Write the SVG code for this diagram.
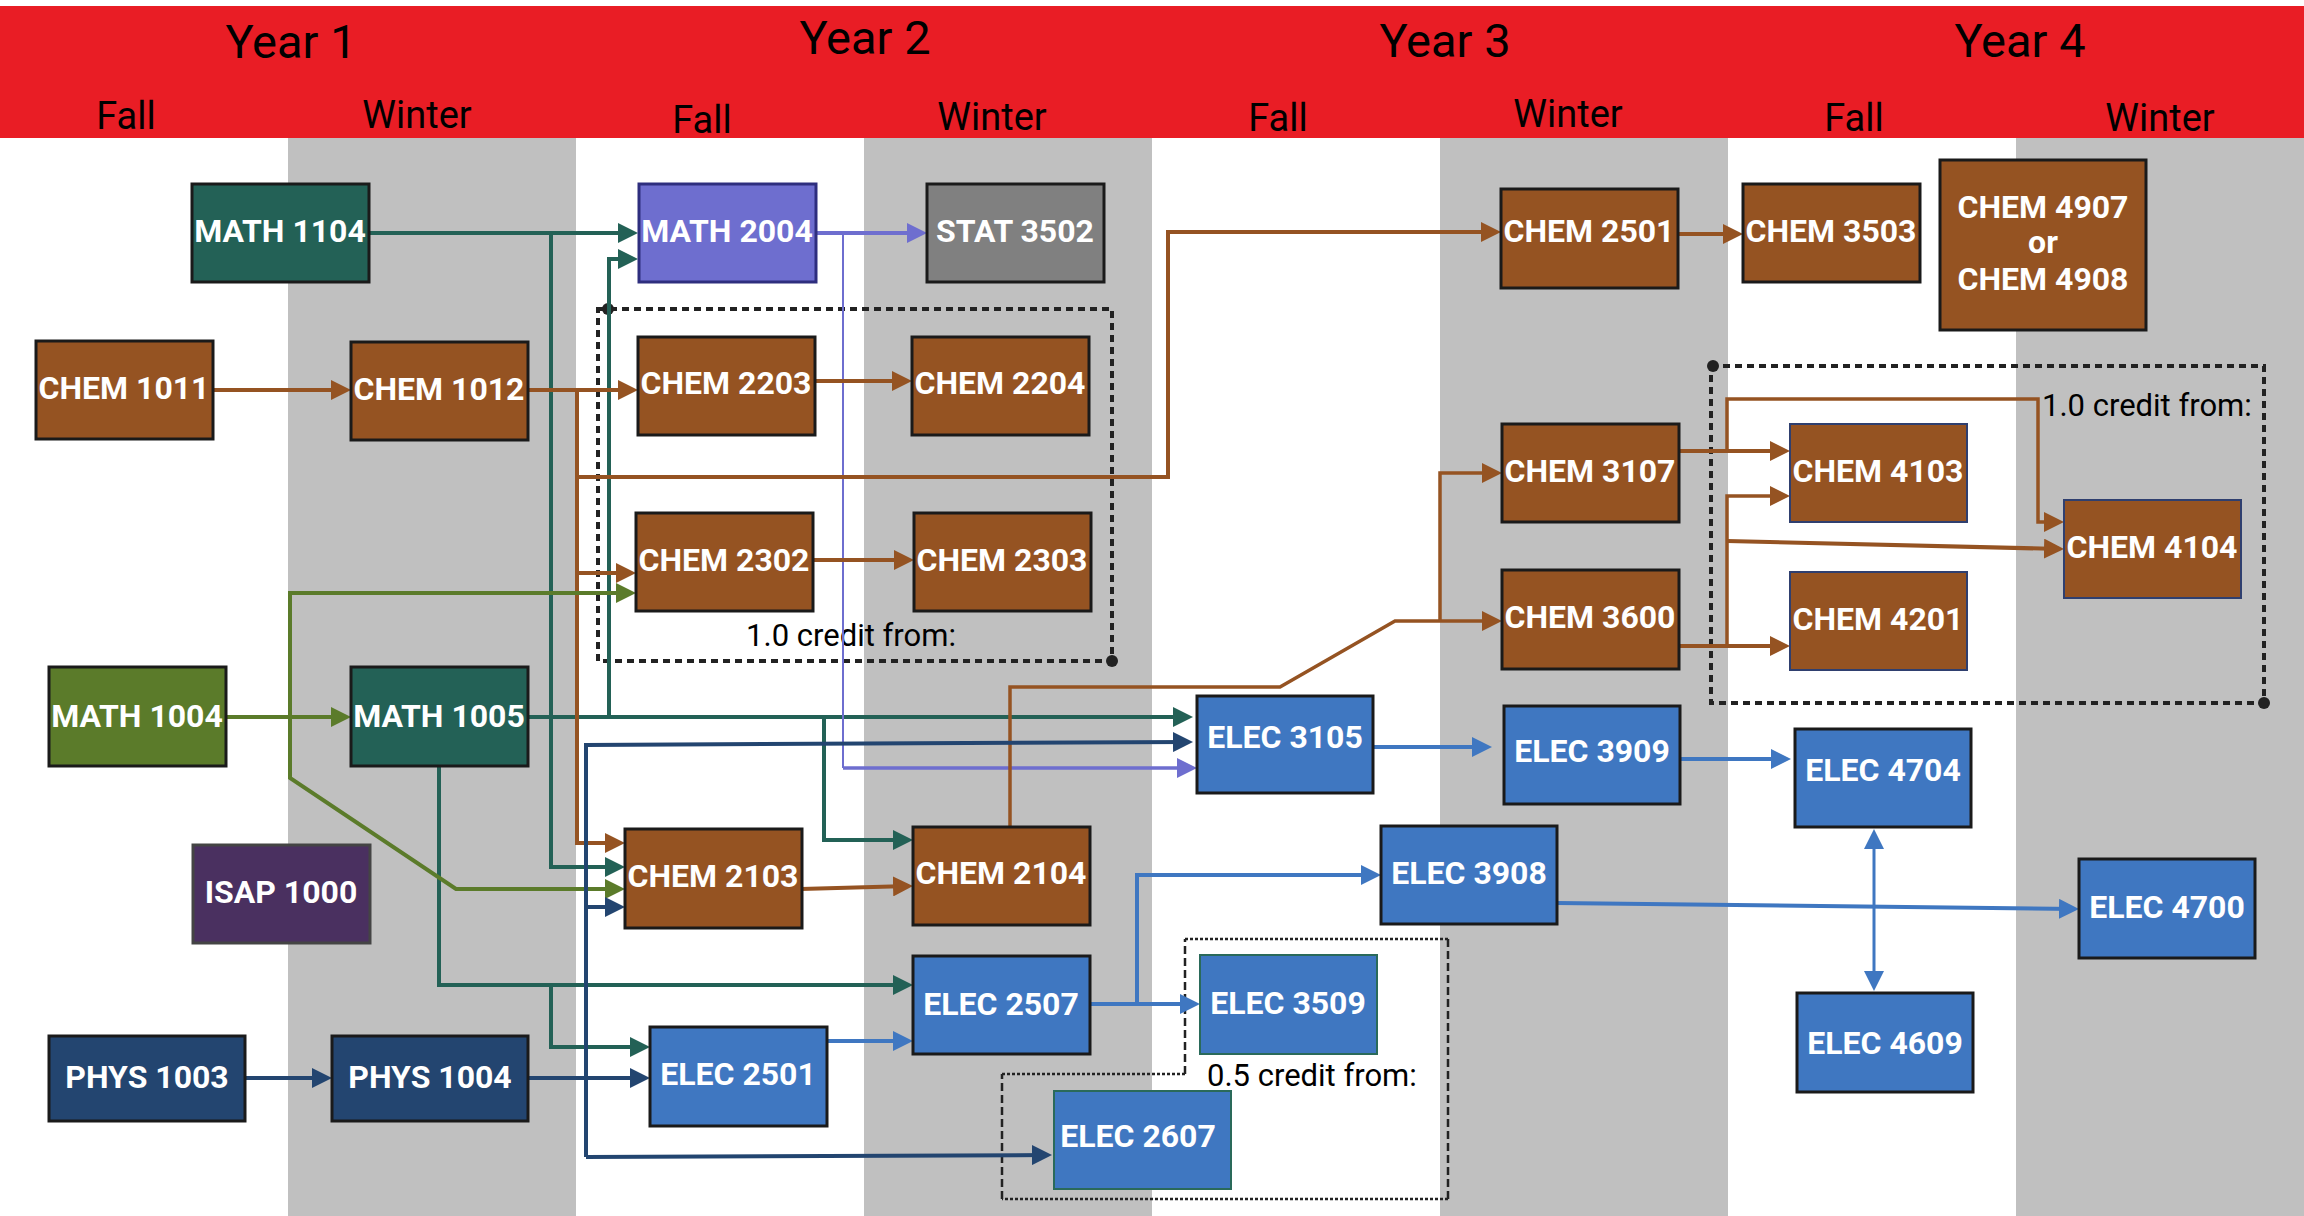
<svg xmlns="http://www.w3.org/2000/svg" width="2304" height="1216" viewBox="0 0 2304 1216">
<style>
.hdr{font-family:Roboto,"Liberation Sans",sans-serif;fill:#000;text-anchor:middle}
.yr{font-size:47px}
.sem{font-size:38px}
.nd rect{stroke:#1a1a1a;stroke-width:3}
.nd text{font-family:Roboto,"Liberation Sans",sans-serif;font-weight:bold;font-size:32px;fill:#fff;text-anchor:middle}
.teal rect{fill:#236156}
.brown rect{fill:#955322}
.blue rect{fill:#3f77c1}
.navy rect{fill:#234570}
.olive rect{fill:#5b7b2a}
.note{font-family:Roboto,"Liberation Sans",sans-serif;font-size:31px;fill:#000}
.dash{fill:none;stroke:#222;stroke-width:4;stroke-dasharray:7 5}
.dh{fill:none;stroke:#222;stroke-width:2.5;stroke-dasharray:3 2}
.dv{fill:none;stroke:#222;stroke-width:2.5;stroke-dasharray:8 4}
#connectors path{fill:none;stroke-width:4;stroke-linejoin:miter}
.ct{stroke:#236156}
.cb{stroke:#955322}
.cp{stroke:#6e6ecf}
.co{stroke:#5b7b2a}
.cn{stroke:#234570}
.ce{stroke:#3f77c1}
</style>
<defs>
<marker id="aT" markerUnits="userSpaceOnUse" markerWidth="20" markerHeight="20" viewBox="0 0 20 20" refX="16" refY="10" orient="auto-start-reverse"><path d="M0,0L20,10L0,20z" fill="#236156"/></marker>
<marker id="aB" markerUnits="userSpaceOnUse" markerWidth="20" markerHeight="20" viewBox="0 0 20 20" refX="16" refY="10" orient="auto-start-reverse"><path d="M0,0L20,10L0,20z" fill="#955322"/></marker>
<marker id="aP" markerUnits="userSpaceOnUse" markerWidth="20" markerHeight="20" viewBox="0 0 20 20" refX="16" refY="10" orient="auto-start-reverse"><path d="M0,0L20,10L0,20z" fill="#6e6ecf"/></marker>
<marker id="aO" markerUnits="userSpaceOnUse" markerWidth="20" markerHeight="20" viewBox="0 0 20 20" refX="16" refY="10" orient="auto-start-reverse"><path d="M0,0L20,10L0,20z" fill="#5b7b2a"/></marker>
<marker id="aN" markerUnits="userSpaceOnUse" markerWidth="20" markerHeight="20" viewBox="0 0 20 20" refX="16" refY="10" orient="auto-start-reverse"><path d="M0,0L20,10L0,20z" fill="#234570"/></marker>
<marker id="aE" markerUnits="userSpaceOnUse" markerWidth="20" markerHeight="20" viewBox="0 0 20 20" refX="16" refY="10" orient="auto-start-reverse"><path d="M0,0L20,10L0,20z" fill="#3f77c1"/></marker>
</defs>

<g id="background">
<rect x="0" y="0" width="2304" height="1216" fill="#fff"/>
<rect x="288" y="138" width="288" height="1078" fill="#c0c0c0"/>
<rect x="864" y="138" width="288" height="1078" fill="#c0c0c0"/>
<rect x="1440" y="138" width="288" height="1078" fill="#c0c0c0"/>
<rect x="2016" y="138" width="288" height="1078" fill="#c0c0c0"/>
<rect x="0" y="6" width="2304" height="132" fill="#e91d25"/>
</g>

<g id="header">
<text class="hdr yr" x="291" y="58">Year 1</text>
<text class="hdr yr" x="865" y="54">Year 2</text>
<text class="hdr yr" x="1445" y="57">Year 3</text>
<text class="hdr yr" x="2020" y="57">Year 4</text>
<text class="hdr sem" x="126" y="129">Fall</text>
<text class="hdr sem" x="417" y="128">Winter</text>
<text class="hdr sem" x="702" y="133">Fall</text>
<text class="hdr sem" x="992" y="130">Winter</text>
<text class="hdr sem" x="1278" y="131">Fall</text>
<text class="hdr sem" x="1568" y="127">Winter</text>
<text class="hdr sem" x="1854" y="131">Fall</text>
<text class="hdr sem" x="2160" y="131">Winter</text>
</g>

<g id="groups">
<rect class="dash" x="598" y="309" width="514" height="352"/>
<circle cx="608" cy="309" r="6" fill="#222"/>
<circle cx="1112" cy="661" r="6" fill="#222"/>
<text class="note" x="851" y="646" text-anchor="middle">1.0 credit from:</text>
<rect class="dash" x="1711" y="366" width="553" height="337"/>
<circle cx="1713" cy="366" r="6" fill="#222"/>
<circle cx="2264" cy="703" r="6" fill="#222"/>
<text class="note" x="2042" y="416">1.0 credit from:</text>
<path class="dh" d="M1185,939H1448M1448,1199H1002M1002,1074H1185"/>
<path class="dv" d="M1448,939V1199M1002,1199V1074M1185,1074V939"/>
<text class="note" x="1207" y="1086">0.5 credit from:</text>
</g>

<g id="connectors">
<path class="ct" d="M369,233H634" marker-end="url(#aT)"/>
<path class="ct" d="M551,233V867H621" marker-end="url(#aT)"/>
<path class="ct" d="M528,717H1189" marker-end="url(#aT)"/>
<path class="ct" d="M609,717V259H634" marker-end="url(#aT)"/>
<path class="ct" d="M824,717V840H909" marker-end="url(#aT)"/>
<path class="ct" d="M439,766V985H909" marker-end="url(#aT)"/>
<path class="ct" d="M551,985V1047H646" marker-end="url(#aT)"/>
<path class="cp" d="M816,233H923" marker-end="url(#aP)"/>
<path class="cp" d="M843,233V768" style="stroke-width:2"/>
<path class="cp" d="M843,768H1193" marker-end="url(#aP)" style="stroke-width:3.5"/>
<path class="cb" d="M213,390H347" marker-end="url(#aB)"/>
<path class="cb" d="M528,390H634" marker-end="url(#aB)"/>
<path class="cb" d="M577,390V843H621" marker-end="url(#aB)"/>
<path class="cb" d="M577,573H632" marker-end="url(#aB)"/>
<path class="cb" d="M577,477H1168V232H1497" marker-end="url(#aB)"/>
<path class="cb" d="M815,381H908" marker-end="url(#aB)"/>
<path class="cb" d="M813,560H910" marker-end="url(#aB)"/>
<path class="cb" d="M1678,234H1739" marker-end="url(#aB)"/>
<path class="cb" d="M801,889L909,886" marker-end="url(#aB)"/>
<path class="cb" d="M1010,827V687H1280L1395,621H1498" marker-end="url(#aB)" style="stroke-width:3.5"/>
<path class="cb" d="M1440,621V473H1498" marker-end="url(#aB)" style="stroke-width:3.5"/>
<path class="cb" d="M1679,451H1786" marker-end="url(#aB)"/>
<path class="cb" d="M1727,451V399H2038V522H2060" marker-end="url(#aB)" style="stroke-width:3.5"/>
<path class="cb" d="M1679,646H1786" marker-end="url(#aB)"/>
<path class="cb" d="M1727,646V496H1786" marker-end="url(#aB)" style="stroke-width:3.5"/>
<path class="cb" d="M1727,541L2060,549" marker-end="url(#aB)"/>
<path class="co" d="M226,717H347" marker-end="url(#aO)"/>
<path class="co" d="M290,717V593H632" marker-end="url(#aO)"/>
<path class="co" d="M290,717V778L456,889H621" marker-end="url(#aO)"/>
<path class="cn" d="M245,1078H328" marker-end="url(#aN)"/>
<path class="cn" d="M528,1078H646" marker-end="url(#aN)"/>
<path class="cn" d="M586,1157V745L1189,742" marker-end="url(#aN)"/>
<path class="cn" d="M586,907H621" marker-end="url(#aN)"/>
<path class="cn" d="M586,1157L1048,1155" marker-end="url(#aN)"/>
<path class="ce" d="M827,1041H909" marker-end="url(#aE)"/>
<path class="ce" d="M1090,1004H1196" marker-end="url(#aE)"/>
<path class="ce" d="M1137,1004V875H1377" marker-end="url(#aE)"/>
<path class="ce" d="M1373,747H1488" marker-end="url(#aE)"/>
<path class="ce" d="M1680,759H1787" marker-end="url(#aE)"/>
<path class="ce" d="M1557,903L2075,909" marker-end="url(#aE)"/>
<path class="ce" d="M1874,833V987" marker-start="url(#aE)" marker-end="url(#aE)" style="stroke-width:3"/>
</g>

<g id="math1104" class="nd teal"><rect x="192" y="184" width="177" height="98"/><text x="280" y="242">MATH 1104</text></g>
<g id="math2004" class="nd"><rect x="639" y="184" width="177" height="98" style="fill:#6e6ecf;stroke:#2e2e7e"/><text x="727" y="242">MATH 2004</text></g>
<g id="stat3502" class="nd"><rect x="927" y="184" width="177" height="98" style="fill:#808080"/><text x="1015" y="242">STAT 3502</text></g>
<g id="chem1011" class="nd brown"><rect x="36" y="341" width="177" height="98"/><text x="124" y="399">CHEM 1011</text></g>
<g id="chem1012" class="nd brown"><rect x="351" y="342" width="177" height="98"/><text x="439" y="400">CHEM 1012</text></g>
<g id="chem2203" class="nd brown"><rect x="638" y="337" width="177" height="98"/><text x="726" y="394">CHEM 2203</text></g>
<g id="chem2204" class="nd brown"><rect x="912" y="337" width="177" height="98"/><text x="1000" y="394">CHEM 2204</text></g>
<g id="chem2302" class="nd brown"><rect x="636" y="513" width="177" height="98"/><text x="724" y="571">CHEM 2302</text></g>
<g id="chem2303" class="nd brown"><rect x="914" y="513" width="177" height="98"/><text x="1002" y="571">CHEM 2303</text></g>
<g id="chem2501" class="nd brown"><rect x="1501" y="189" width="177" height="99"/><text x="1589" y="242">CHEM 2501</text></g>
<g id="chem3503" class="nd brown"><rect x="1743" y="184" width="177" height="98"/><text x="1831" y="242">CHEM 3503</text></g>
<g id="chem4907" class="nd brown"><rect x="1940" y="160" width="206" height="170"/><text x="2043" y="218">CHEM 4907</text><text x="2043" y="253">or</text><text x="2043" y="290">CHEM 4908</text></g>
<g id="chem3107" class="nd brown"><rect x="1502" y="424" width="177" height="98"/><text x="1590" y="482">CHEM 3107</text></g>
<g id="chem3600" class="nd brown"><rect x="1502" y="570" width="177" height="99"/><text x="1590" y="628">CHEM 3600</text></g>
<g id="chem4103" class="nd brown"><rect x="1790" y="424" width="177" height="98" style="stroke:#2f3f6f;stroke-width:2"/><text x="1878" y="482">CHEM 4103</text></g>
<g id="chem4201" class="nd brown"><rect x="1790" y="572" width="177" height="98" style="stroke:#2f3f6f;stroke-width:2"/><text x="1878" y="630">CHEM 4201</text></g>
<g id="chem4104" class="nd brown"><rect x="2064" y="500" width="177" height="98" style="stroke:#2f3f6f;stroke-width:2"/><text x="2152" y="558">CHEM 4104</text></g>
<g id="math1004" class="nd olive"><rect x="49" y="667" width="177" height="99"/><text x="137" y="727">MATH 1004</text></g>
<g id="math1005" class="nd teal"><rect x="351" y="667" width="177" height="99"/><text x="439" y="727">MATH 1005</text></g>
<g id="isap1000" class="nd"><rect x="193" y="845" width="177" height="98" style="fill:#4a3060;stroke:#444"/><text x="281" y="903">ISAP 1000</text></g>
<g id="chem2103" class="nd brown"><rect x="625" y="829" width="177" height="99"/><text x="713" y="887">CHEM 2103</text></g>
<g id="chem2104" class="nd brown"><rect x="913" y="827" width="177" height="98"/><text x="1001" y="884">CHEM 2104</text></g>
<g id="elec2507" class="nd blue"><rect x="913" y="956" width="177" height="98"/><text x="1001" y="1015">ELEC 2507</text></g>
<g id="phys1003" class="nd navy"><rect x="49" y="1036" width="196" height="85"/><text x="147" y="1088">PHYS 1003</text></g>
<g id="phys1004" class="nd navy"><rect x="332" y="1036" width="196" height="85"/><text x="430" y="1088">PHYS 1004</text></g>
<g id="elec2501" class="nd blue"><rect x="650" y="1027" width="177" height="99"/><text x="738" y="1085">ELEC 2501</text></g>
<g id="elec2607" class="nd blue"><rect x="1054" y="1091" width="177" height="98" style="stroke:#2a6a5a;stroke-width:2"/><text x="1138" y="1147">ELEC 2607</text></g>
<g id="elec3105" class="nd blue"><rect x="1197" y="696" width="176" height="97"/><text x="1285" y="748">ELEC 3105</text></g>
<g id="elec3909" class="nd blue"><rect x="1504" y="706" width="176" height="98"/><text x="1592" y="762">ELEC 3909</text></g>
<g id="elec4704" class="nd blue"><rect x="1795" y="729" width="176" height="98"/><text x="1883" y="781">ELEC 4704</text></g>
<g id="elec3908" class="nd blue"><rect x="1381" y="826" width="176" height="98"/><text x="1469" y="884">ELEC 3908</text></g>
<g id="elec4700" class="nd blue"><rect x="2079" y="859" width="176" height="99"/><text x="2167" y="918">ELEC 4700</text></g>
<g id="elec3509" class="nd blue"><rect x="1200" y="955" width="177" height="99" style="stroke:#2a6a5a;stroke-width:2"/><text x="1288" y="1014">ELEC 3509</text></g>
<g id="elec4609" class="nd blue"><rect x="1797" y="993" width="176" height="99"/><text x="1885" y="1054">ELEC 4609</text></g>
</svg>
